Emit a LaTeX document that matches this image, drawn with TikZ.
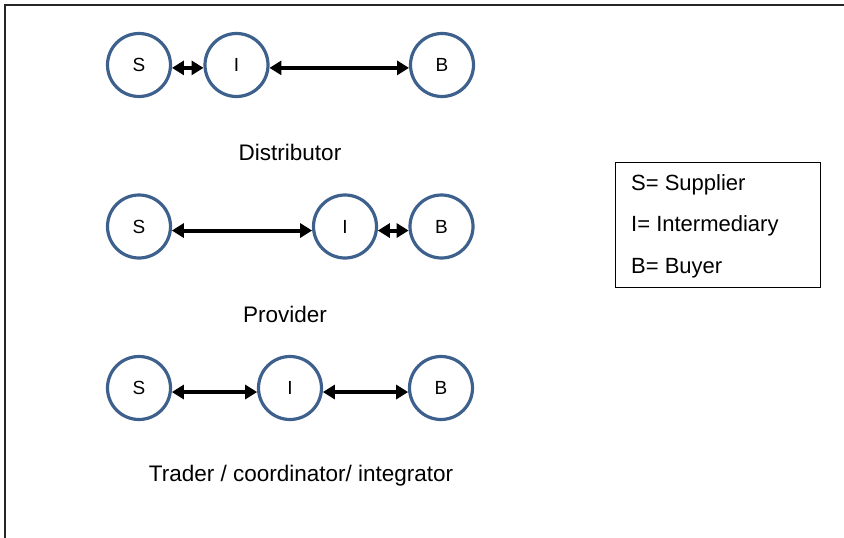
\documentclass[tikz,border=0pt]{standalone}
\usepackage{fontspec}
\setmainfont{Liberation Sans}
\usetikzlibrary{arrows.meta}
\definecolor{ringblue}{RGB}{61,96,140}
\tikzset{
  party/.style={circle, draw=ringblue, line width=3.2pt, minimum size=63pt, inner sep=0pt, font=\fontsize{19}{22}\selectfont},
  link/.style={line width=4pt, {Triangle[length=12pt,width=14pt]}-{Triangle[length=12pt,width=14pt]}},
  caption/.style={font=\fontsize{22.5}{26}\selectfont},
  legendtext/.style={font=\fontsize{22}{26}\selectfont, anchor=west, inner sep=0pt}
}
\begin{document}
\begin{tikzpicture}[x=1pt,y=-1pt]
\useasboundingbox (0,0) rectangle (844,538);
% frame
\draw[line width=1.5pt, black!85] (5,538) -- (5,5) -- (844,5);

% row 1: Distributor
\node[party] (S1) at (139,65) {S};
\node[party] (I1) at (236.5,65) {I};
\node[party] (B1) at (442,65) {B};
\draw[link] (S1.-5) -- (I1.-175);
\draw[link] (I1.-5) -- (B1.-175);
\node[caption] (c1) at (290,152) {Distributor};

% row 2: Provider
\node[party] (S2) at (139,226.5) {S};
\node[party] (I2) at (345,226.5) {I};
\node[party] (B2) at (441.5,226.5) {B};
\draw[link] (S2.-7) -- (I2.-173);
\draw[link] (I2.-7) -- (B2.-173);
\node[caption] (c2) at (285,314) {Provider};

% row 3: Trader
\node[party] (S3) at (139,388) {S};
\node[party] (I3) at (290,388) {I};
\node[party] (B3) at (441,388) {B};
\draw[link] (S3.-7) -- (I3.-173);
\draw[link] (I3.-7) -- (B3.-173);
\node[caption] (c3) at (301,476) {Trader / coordinator/ integrator};

% legend
\node[draw, line width=1pt, minimum width=205pt, minimum height=125pt, anchor=north west] (leg) at (615,162) {};
\node[legendtext] (l1) at (631,185) {S= Supplier};
\node[legendtext] (l2) at (631,226) {I= Intermediary};
\node[legendtext] (l3) at (631,268) {B= Buyer};
\end{tikzpicture}
\end{document}
